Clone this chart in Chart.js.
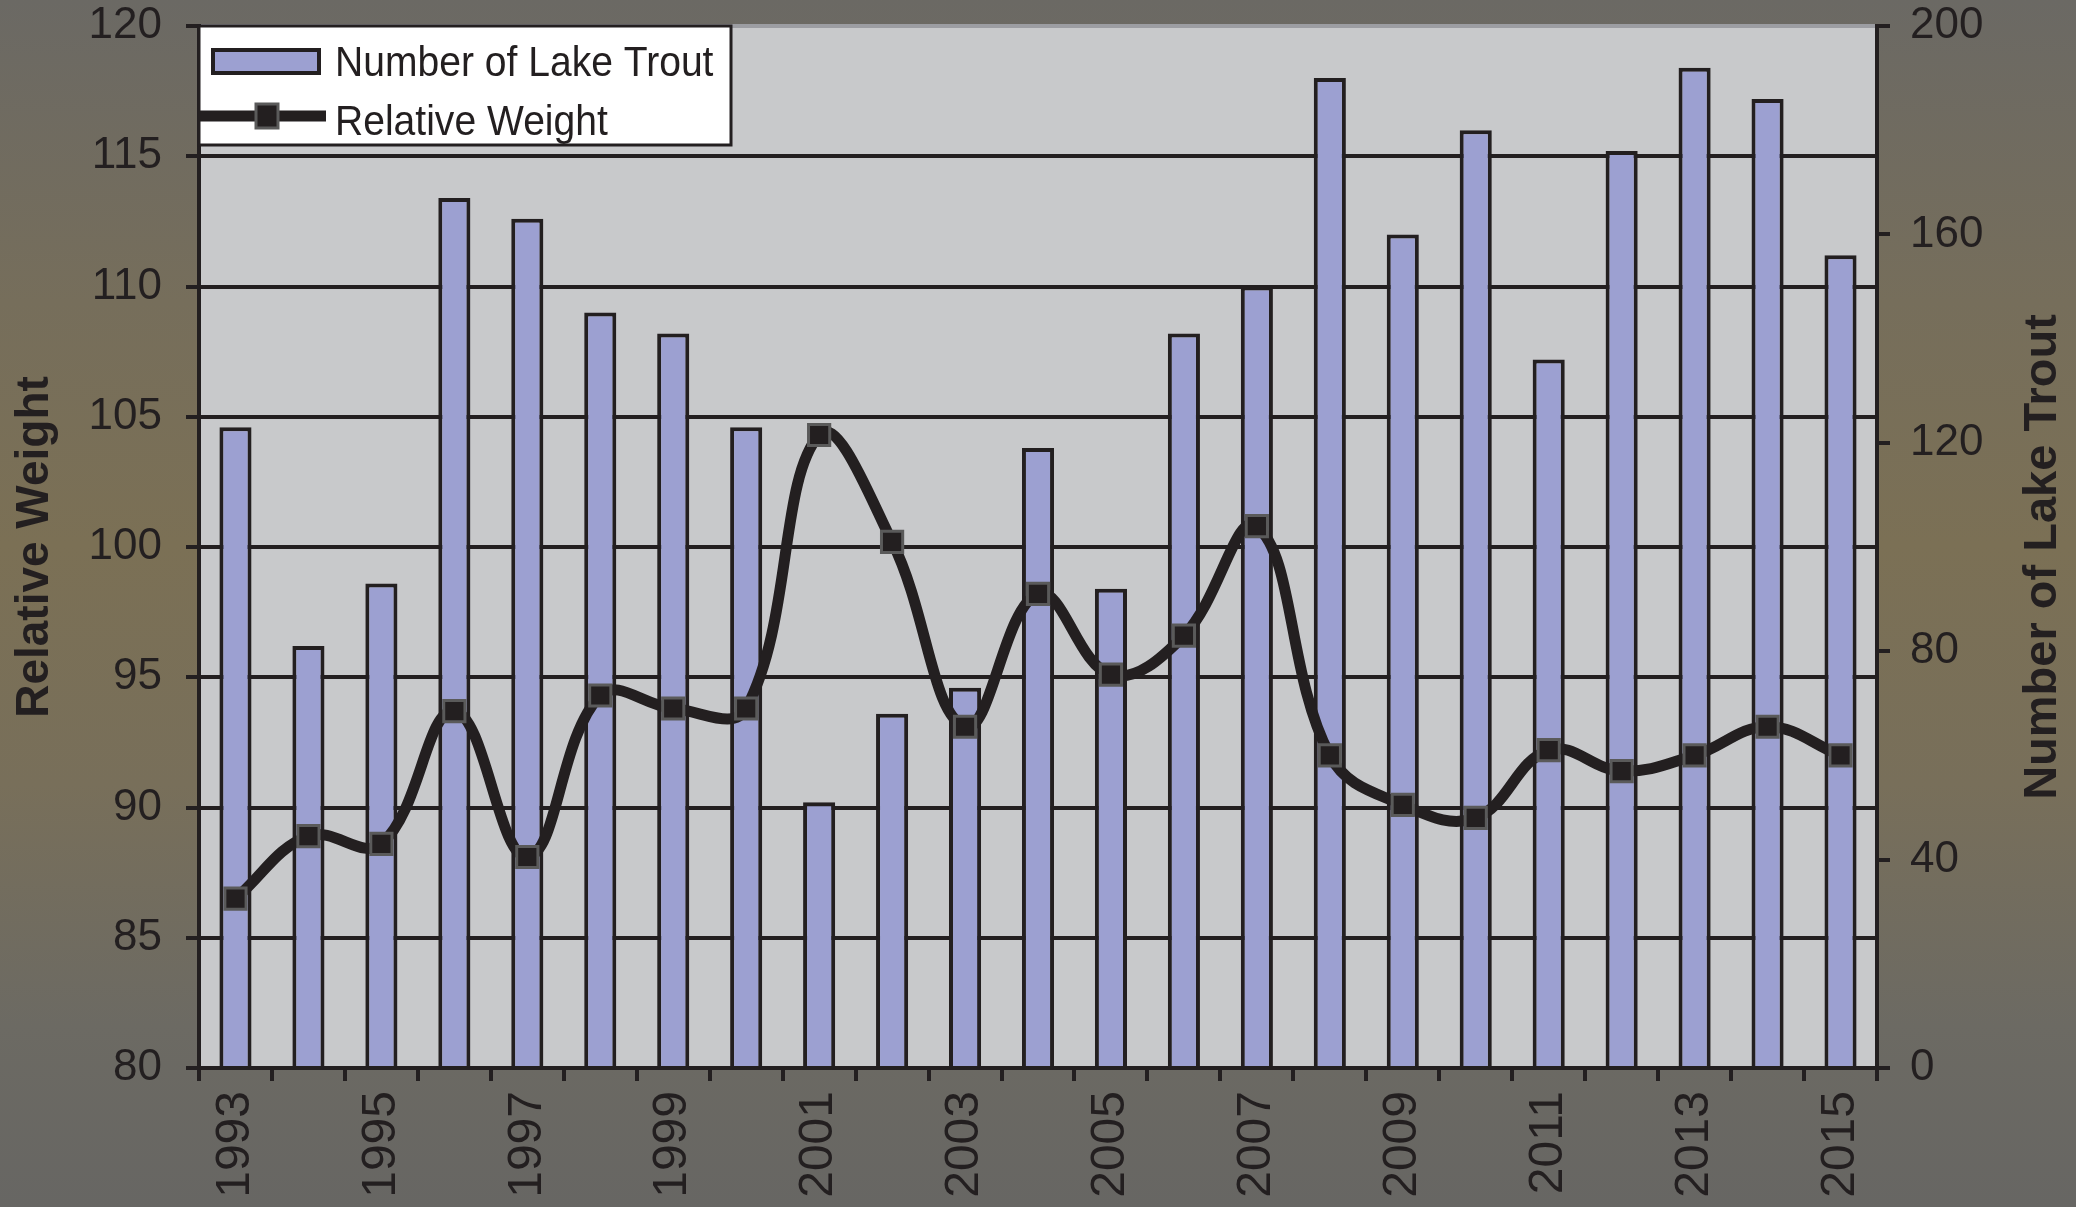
<!DOCTYPE html>
<html>
<head>
<meta charset="utf-8">
<script src="https://cdn.jsdelivr.net/npm/chart.js@4.4.1/dist/chart.umd.min.js"></script>
<style>
  html, body { margin: 0; padding: 0; }
  body {
    width: 2076px; height: 1207px; overflow: hidden;
    background: linear-gradient(to bottom, #6b6964 0%, #766e5b 25%, #7b7055 45%, #786f5a 65%, #6c6a63 85%, #676663 100%);
  }
  #wrap { position: relative; width: 2076px; height: 1207px; }
</style>
</head>
<body>
<div id="wrap"><canvas id="trout-chart" width="2076" height="1207"></canvas></div>
<script>
// data
const years = ["1993","1994","1995","1996","1997","1998","1999","2000","2001","2002","2003","2004",
               "2005","2006","2007","2008","2009","2010","2011","2012","2013","2014","2015"];
const troutCounts = [123, 81, 93, 167, 163, 145, 141, 123, 51, 68, 73, 119,
                     92, 141, 150, 190, 160, 180, 136, 176, 192, 186, 156];
const relWeight = [86.5, 88.9, 88.6, 93.7, 88.1, 94.3, 93.8, 93.8, 104.3, 100.2, 93.1, 98.2,
                   95.1, 96.6, 100.8, 92.0, 90.1, 89.6, 92.2, 91.4, 92.0, 93.1, 92.0];

const ink = "#231f20";
const barFill = "#9ca0d1";
const fontFam = "'Liberation Sans', Arial, sans-serif";

// text squeezed a little sideways, like the original
function narrowText(ctx, txt, x, y, sx) {
    ctx.save();
    ctx.translate(x, y);
    ctx.scale(sx, 1);
    ctx.fillText(txt, 0, 0);
    ctx.restore();
}

// legend box + right title drawn by hand (box sits inside the plot)
const boxLegend = {
    id: "boxLegend",
    afterDraw(chart) {
        const ctx = chart.ctx;
        const ca = chart.chartArea;
        const x0 = ca.left, y0 = ca.top;
        ctx.save();
        ctx.fillStyle = "#ffffff";
        ctx.strokeStyle = ink;
        ctx.lineWidth = 3;
        ctx.fillRect(x0, y0, 532, 119);
        ctx.strokeRect(x0, y0, 532, 119);

        // bar swatch
        ctx.fillStyle = barFill;
        ctx.fillRect(x0 + 14, y0 + 24, 106, 23);
        ctx.lineWidth = 4;
        ctx.strokeRect(x0 + 14, y0 + 24, 106, 23);

        // line swatch
        ctx.beginPath();
        ctx.moveTo(x0 + 1, y0 + 90);
        ctx.lineTo(x0 + 127, y0 + 90);
        ctx.lineWidth = 11;
        ctx.strokeStyle = ink;
        ctx.stroke();
        ctx.fillStyle = ink;
        ctx.fillRect(x0 + 57, y0 + 78, 22, 24);
        ctx.lineWidth = 3;
        ctx.strokeStyle = "#5a5a5a";
        ctx.strokeRect(x0 + 57, y0 + 78, 22, 24);

        ctx.fillStyle = ink;
        ctx.font = "42px " + fontFam;
        ctx.textBaseline = "middle";
        ctx.textAlign = "left";
        narrowText(ctx, "Number of Lake Trout", x0 + 136, y0 + 38, 0.93);
        narrowText(ctx, "Relative Weight", x0 + 136, y0 + 97, 0.93);

        // right axis title reads bottom to top
        ctx.font = "bold 47px " + fontFam;
        ctx.textAlign = "center";
        ctx.translate(2043, (ca.top + ca.bottom) / 2 + 10);
        ctx.rotate(-Math.PI / 2);
        ctx.fillText("Number of Lake Trout", 0, 0);
        ctx.restore();
    }
};

Chart.defaults.font.family = fontFam;
Chart.defaults.color = ink;

const chart = new Chart(document.getElementById("trout-chart"), {
    type: "bar",
    data: {
        labels: years,
        datasets: [
            {
                type: "line",
                label: "Relative Weight",
                data: relWeight,
                yAxisID: "y",
                borderColor: ink,
                borderWidth: 11,
                tension: 0.4,
                pointStyle: "rect",
                pointRadius: 15,
                pointBackgroundColor: ink,
                pointBorderColor: "#5a5a5a",
                pointBorderWidth: 3,
                order: 1
            },
            {
                type: "bar",
                label: "Number of Lake Trout",
                data: troutCounts,
                yAxisID: "y2",
                backgroundColor: barFill,
                borderColor: ink,
                borderWidth: 4,
                barPercentage: 0.44,
                categoryPercentage: 1.0,
                order: 2
            }
        ]
    },
    options: {
        responsive: false,
        animation: false,
        devicePixelRatio: 1,
        layout: { padding: { top: 26, left: 0, right: 0, bottom: 0 } },
        plugins: {
            legend: { display: false },
            tooltip: { enabled: false }
        },
        scales: {
            x: {
                offset: true,
                afterFit: s => { s.height = 139; s.paddingLeft = 0; s.paddingRight = 0; },
                grid: {
                    offset: true,
                    drawOnChartArea: false,
                    color: ink,
                    lineWidth: 4,
                    tickLength: 13
                },
                border: { display: true, color: ink, width: 4 },
                ticks: {
                    autoSkip: false,
                    maxRotation: 90,
                    minRotation: 90,
                    padding: 10,
                    font: { size: 48 },
                    color: ink,
                    callback: function(val, i) {
                        return i % 2 === 0 ? this.getLabelForValue(val) : "";
                    }
                }
            },
            y: {
                position: "left",
                min: 80,
                max: 120,
                afterFit: s => { s.width = 199; s.paddingTop = 0; s.paddingBottom = 0; },
                ticks: { stepSize: 5, font: { size: 44 }, color: ink, padding: 24 },
                grid: {
                    color: ctx => ctx.tick && ctx.tick.value === 120 ? "#9c9da2" : ink,
                    lineWidth: 4,
                    tickColor: ink,
                    tickLength: 13
                },
                border: { display: true, color: ink, width: 4 },
                title: {
                    display: true,
                    text: "Relative Weight",
                    font: { size: 46, weight: "bold" },
                    color: ink,
                    padding: { top: 8, bottom: 0 }
                }
            },
            y2: {
                position: "right",
                min: 0,
                max: 200,
                afterFit: s => { s.width = 199; s.paddingTop = 0; s.paddingBottom = 0; },
                ticks: { stepSize: 40, font: { size: 44 }, color: ink, padding: 20 },
                grid: {
                    drawOnChartArea: false,
                    color: ink,
                    lineWidth: 4,
                    tickLength: 13
                },
                border: { display: true, color: ink, width: 4 }
            }
        }
    },
    plugins: [
        {
            id: "plotBg",
            beforeDraw(chart) {
                const ca = chart.chartArea;
                chart.ctx.save();
                chart.ctx.fillStyle = "#c8c9cb";
                chart.ctx.fillRect(ca.left, ca.top, ca.right - ca.left, ca.bottom - ca.top);
                chart.ctx.restore();
            }
        },
        boxLegend
    ]
});
</script>
</body>
</html>
